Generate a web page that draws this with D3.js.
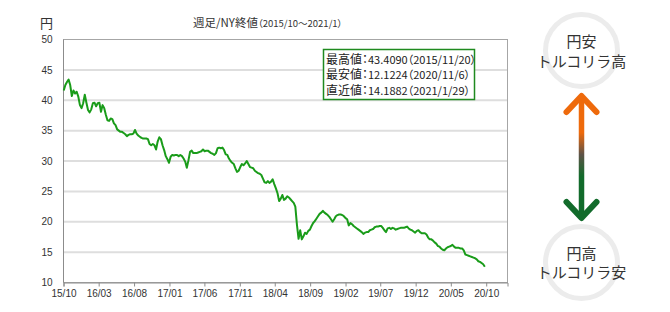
<!DOCTYPE html>
<html>
<head>
<meta charset="utf-8">
<script src="https://cdn.jsdelivr.net/npm/d3@7"></script>
<style>
  body { margin: 0; background: #fff; }
  svg { font-family: "Noto Sans CJK JP", "Noto Sans", sans-serif; }
</style>
</head>
<body>
<script>
// 週足データ（2015/10/2 から1週ごと）
const startDate = "2015/10/02";
const rates = [
  41.6, 42.5, 43.0, 43.4, 42.5, 40.7, 41.6, 41.1, 41.4, 40.6,
  39.2, 38.7, 39.5, 40.9, 39.6, 38.4, 38.0, 38.5, 39.5, 39.6,
  39.0, 39.5, 39.6, 38.1, 39.2, 38.7, 37.6, 36.7, 36.6, 37.0,
  36.9, 36.2, 35.9, 35.2, 35.0, 34.8, 34.8, 34.6, 34.4, 34.1,
  34.3, 34.4, 34.4, 34.5, 35.1, 34.5, 34.2, 34.0, 33.8, 33.7,
  33.7, 33.7, 33.6, 32.8, 32.6, 32.8, 32.6, 31.9, 33.2, 33.9,
  33.6, 32.6, 31.8, 30.8, 30.3, 29.7, 30.7, 31.0, 30.9, 31.0,
  31.0, 30.8, 31.0, 30.8, 30.4, 29.9, 28.9, 30.1, 31.5, 31.7,
  31.3, 31.3, 31.3, 31.4, 31.5, 31.6, 31.9, 31.6, 31.7, 31.7,
  31.5, 31.3, 31.2, 31.0, 31.3, 32.1, 32.2, 32.1, 32.2, 31.8,
  31.1, 31.0, 30.4, 30.0, 29.7, 29.5, 28.8, 28.2, 28.4, 29.0,
  29.5, 29.3, 29.6, 30.0, 29.5, 29.0, 28.9, 28.8, 28.4, 28.2,
  28.0, 27.9, 27.7, 27.1, 26.5, 26.4, 26.7, 26.4, 26.6, 27.0,
  26.2, 25.5, 24.7, 23.4, 23.8, 24.4, 23.6, 23.8, 24.2, 24.0,
  23.7, 23.4, 23.1, 22.5, 19.5, 17.2, 18.6, 17.1, 17.6, 18.2,
  18.0, 18.5, 18.7, 19.3, 19.8, 20.1, 20.5, 20.9, 21.3, 21.5,
  21.8, 21.5, 21.3, 21.1, 20.8, 20.4, 20.0, 20.4, 20.9, 21.1,
  21.2, 21.2, 21.1, 20.9, 20.6, 20.4, 19.4, 19.8, 19.6, 19.3,
  19.1, 18.9, 18.7, 18.5, 18.3, 18.0, 18.2, 18.3, 18.3, 18.6,
  18.7, 18.8, 19.1, 19.2, 19.2, 19.3, 19.3, 19.0, 18.6, 18.3,
  18.9, 19.0, 18.8, 19.0, 18.9, 18.7, 18.8, 18.9, 19.0, 19.0,
  19.0, 19.1, 19.2, 18.9, 18.7, 18.6, 18.4, 18.2, 18.5, 18.6,
  18.3, 18.1, 18.1, 18.1, 17.9, 17.4, 17.1, 17.1, 16.9, 16.6,
  16.4, 16.0, 15.9, 15.6, 15.4, 15.3, 15.6, 15.8, 15.9, 16.0,
  16.2, 15.9, 15.7, 15.7, 15.7, 15.6, 15.6, 15.3, 14.6, 14.5,
  14.4, 14.3, 14.2, 14.1, 14.0, 13.8, 13.5, 13.4, 13.2, 13.0, 12.6
];
// 軸の目盛り
const xTickLabels = ["15/10","16/03","16/08","17/01","17/06","17/11","18/04",
                     "18/09","19/02","19/07","19/12","20/05","20/10"];
const yTicks = [10, 15, 20, 25, 30, 35, 40, 45, 50];
// 凡例ボックス
const statLabels = ["最高値", "最安値", "直近値"];
const statValues = ["43.4090", "12.1224", "14.1882"];
const statDates = ["2015/11/20", "2020/11/6", "2021/1/29"];

const W = 670, H = 312;
const svg = d3.select('body').append('svg')
  .attr('width', W).attr('height', H);

const parseDay = d3.timeParse('%Y/%m/%d');
const parseTick = d3.timeParse('%y/%m');
const start = parseDay(startDate);
const donnees = rates.map((v, i) => ({ date: d3.timeDay.offset(start, 7 * i), value: v }));

// échelles
const x = d3.scaleTime()
  .domain([parseDay('2015/10/01'), parseDay('2021/01/01')])
  .range([63.5, 507.5]);
const y = d3.scaleLinear().domain([10, 50]).range([282.5, 39.5]);

// grille
svg.append('g').selectAll('line')
  .data(yTicks.filter(t => t > 10 && t < 50))
  .join('line')
  .attr('x1', 64).attr('x2', 507)
  .attr('y1', d => y(d)).attr('y2', d => y(d))
  .attr('stroke', '#dedede').attr('stroke-width', 2);

// cadre
svg.append('rect')
  .attr('x', 63.5).attr('y', 39.5)
  .attr('width', 444).attr('height', 243)
  .attr('fill', 'none').attr('stroke', '#a6a6a6');
svg.append('line')
  .attr('x1', 63.5).attr('x2', 63.5).attr('y1', 39.5).attr('y2', 282.5)
  .attr('stroke', '#8c8c8c');

// axe x
const axeX = svg.append('g')
  .attr('transform', 'translate(0,282.5)')
  .call(d3.axisBottom(x)
    .tickValues(xTickLabels.map(parseTick))
    .tickFormat(d3.timeFormat('%y/%m'))
    .tickSize(4).tickPadding(3));
axeX.select('.domain').attr('stroke', '#8c8c8c');
axeX.selectAll('.tick line').attr('stroke', '#8c8c8c');
axeX.selectAll('text').attr('font-size', 10).attr('fill', '#333');

// axe y
const axeY = svg.append('g')
  .attr('transform', 'translate(63.5,0)')
  .call(d3.axisLeft(y).tickValues(yTicks).tickSize(0).tickPadding(11));
axeY.select('.domain').remove();
axeY.selectAll('text').attr('font-size', 10).attr('fill', '#333');

// ligne
const ligne = d3.line().x(d => x(d.date)).y(d => y(d.value));
svg.append('path')
  .datum(donnees)
  .attr('d', ligne)
  .attr('fill', 'none')
  .attr('stroke', '#1a9c1a')
  .attr('stroke-width', 2)
  .attr('stroke-linejoin', 'round');

// titres
svg.append('text').attr('x', 40).attr('y', 28)
  .attr('font-size', 13).attr('fill', '#333').text('円');
const titre = svg.append('text').attr('x', 193).attr('y', 27)
  .attr('font-size', 11.5).attr('fill', '#333')
  .style('font-feature-settings', '"palt"');
titre.append('tspan').text('週足/NY終値');
titre.append('tspan').attr('font-size', 9.5).text('（2015/10～2021/1）');

// boîte des valeurs
svg.append('rect')
  .attr('x', 323.5).attr('y', 49.5).attr('width', 151).attr('height', 50)
  .attr('fill', '#fff').attr('stroke', '#1f8a1f').attr('stroke-width', 1.5);
statLabels.forEach((lab, i) => {
  const t = svg.append('text')
    .attr('x', 326).attr('y', 63.5 + i * 15.5)
    .attr('fill', '#222')
    .style('font-feature-settings', '"palt"');
  t.append('tspan').attr('font-size', 12).text(lab + '：');
  t.append('tspan').attr('font-size', 11)
    .text(statValues[i] + '（' + statDates[i] + '）');
});

// côté droit : cercles et flèche
const cx = 581.5;
svg.selectAll('circle.rond')
  .data([50.5, 262.5])
  .join('circle')
  .attr('class', 'rond')
  .attr('cx', cx).attr('cy', d => d).attr('r', 36)
  .attr('fill', 'none').attr('stroke', '#ececec').attr('stroke-width', 5);

const haut = svg.append('text').attr('text-anchor', 'middle')
  .attr('font-size', 15).attr('fill', '#333');
haut.append('tspan').attr('x', cx).attr('y', 47).text('円安');
haut.append('tspan').attr('x', cx).attr('y', 67).text('トルコリラ高');
const bas = svg.append('text').attr('text-anchor', 'middle')
  .attr('font-size', 15).attr('fill', '#333');
bas.append('tspan').attr('x', cx).attr('y', 259).text('円高');
bas.append('tspan').attr('x', cx).attr('y', 278).text('トルコリラ安');

const defs = svg.append('defs');
const grad = defs.append('linearGradient')
  .attr('id', 'degrade').attr('gradientUnits', 'userSpaceOnUse')
  .attr('x1', 0).attr('x2', 0).attr('y1', 96).attr('y2', 218);
[[0, '#ee6a0c'], [0.3, '#ee6a0c'], [0.48, '#5e5348'], [0.66, '#126b2b'], [1, '#126b2b']]
  .forEach(([o, c]) => grad.append('stop').attr('offset', o).attr('stop-color', c));

svg.append('line')
  .attr('x1', cx).attr('x2', cx).attr('y1', 97).attr('y2', 217)
  .attr('stroke', 'url(#degrade)').attr('stroke-width', 5.5);
svg.append('path')
  .attr('d', `M${cx - 15},${112} L${cx},${96} L${cx + 15},${112}`)
  .attr('fill', 'none').attr('stroke', '#ee6a0c').attr('stroke-width', 6)
  .attr('stroke-linecap', 'round').attr('stroke-linejoin', 'round');
svg.append('path')
  .attr('d', `M${cx - 15},${202} L${cx},${218} L${cx + 15},${202}`)
  .attr('fill', 'none').attr('stroke', '#126b2b').attr('stroke-width', 6)
  .attr('stroke-linecap', 'round').attr('stroke-linejoin', 'round');
</script>
</body>
</html>
